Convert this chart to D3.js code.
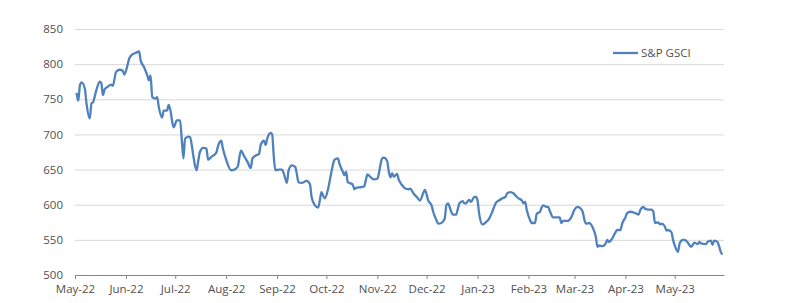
<!DOCTYPE html>
<html lang="en">
  <head>
    <meta charset="utf-8">
    <title>S&amp;P GSCI</title>
    <script src="https://d3js.org/d3.v7.min.js"></script>
    <style>
      body { margin: 0; background: #fff; }
      text { font-family: "Open Sans", sans-serif; font-size: 11.5px; fill: #505050; }
    </style>
  </head>
  <body>
    <script type="text/javascript">
      // S&P GSCI index level
      var dates = [
        "2022-05-02","2022-05-03","2022-05-04","2022-05-05","2022-05-07","2022-05-08","2022-05-10","2022-05-11",
        "2022-05-12","2022-05-14","2022-05-16","2022-05-17","2022-05-18","2022-05-19","2022-05-21","2022-05-23",
        "2022-05-24","2022-05-26","2022-05-28","2022-05-30","2022-05-31","2022-06-02","2022-06-03","2022-06-05",
        "2022-06-07","2022-06-09","2022-06-10","2022-06-12","2022-06-14","2022-06-15","2022-06-16","2022-06-17",
        "2022-06-19","2022-06-20","2022-06-21","2022-06-23","2022-06-24","2022-06-26","2022-06-27","2022-06-28",
        "2022-06-30","2022-07-02","2022-07-04","2022-07-05","2022-07-06","2022-07-07","2022-07-09","2022-07-10",
        "2022-07-12","2022-07-13","2022-07-14","2022-07-15","2022-07-16","2022-07-18","2022-07-20","2022-07-21",
        "2022-07-23","2022-07-26","2022-07-27","2022-07-29","2022-07-30","2022-08-01","2022-08-04","2022-08-06",
        "2022-08-08","2022-08-10","2022-08-12","2022-08-14","2022-08-16","2022-08-17","2022-08-19","2022-08-21",
        "2022-08-22","2022-08-24","2022-08-25","2022-08-26","2022-08-28","2022-08-29","2022-08-30","2022-08-31",
        "2022-09-02","2022-09-04","2022-09-05","2022-09-07","2022-09-08","2022-09-10","2022-09-12","2022-09-13",
        "2022-09-14","2022-09-16","2022-09-19","2022-09-21","2022-09-22","2022-09-24","2022-09-26","2022-09-27",
        "2022-09-28","2022-09-29","2022-09-30","2022-10-02","2022-10-04","2022-10-06","2022-10-08","2022-10-09",
        "2022-10-11","2022-10-12","2022-10-13","2022-10-14","2022-10-15","2022-10-17","2022-10-18","2022-10-19",
        "2022-10-22","2022-10-24","2022-10-25","2022-10-26","2022-10-28","2022-10-30","2022-11-01","2022-11-02",
        "2022-11-03","2022-11-04","2022-11-05","2022-11-07","2022-11-08","2022-11-09","2022-11-10","2022-11-11",
        "2022-11-13","2022-11-14","2022-11-16","2022-11-18","2022-11-20","2022-11-21","2022-11-23","2022-11-25",
        "2022-11-27","2022-11-29","2022-11-30","2022-12-02","2022-12-04","2022-12-05","2022-12-07","2022-12-08",
        "2022-12-10","2022-12-12","2022-12-13","2022-12-14","2022-12-16","2022-12-17","2022-12-19","2022-12-20",
        "2022-12-21","2022-12-23","2022-12-24","2022-12-25","2022-12-26","2022-12-27","2022-12-28","2022-12-30",
        "2022-12-31","2023-01-01","2023-01-02","2023-01-04","2023-01-06","2023-01-08","2023-01-10","2023-01-12",
        "2023-01-14","2023-01-16","2023-01-18","2023-01-19","2023-01-21","2023-01-23","2023-01-25","2023-01-26",
        "2023-01-28","2023-01-29","2023-01-30","2023-01-31","2023-02-02","2023-02-03","2023-02-05","2023-02-06",
        "2023-02-08","2023-02-09","2023-02-10","2023-02-12","2023-02-13","2023-02-14","2023-02-16","2023-02-18",
        "2023-02-20","2023-02-21","2023-02-22","2023-02-25","2023-02-27","2023-03-01","2023-03-03","2023-03-04",
        "2023-03-06","2023-03-07","2023-03-08","2023-03-10","2023-03-11","2023-03-12","2023-03-14","2023-03-15",
        "2023-03-16","2023-03-18","2023-03-20","2023-03-21","2023-03-22","2023-03-24","2023-03-26","2023-03-27",
        "2023-03-29","2023-03-30","2023-04-01","2023-04-02","2023-04-04","2023-04-07","2023-04-09","2023-04-10",
        "2023-04-12","2023-04-13","2023-04-15","2023-04-17","2023-04-18","2023-04-19","2023-04-21","2023-04-22",
        "2023-04-23","2023-04-25","2023-04-26","2023-04-27","2023-04-29","2023-04-30","2023-05-01","2023-05-03",
        "2023-05-04","2023-05-06","2023-05-07","2023-05-09","2023-05-11","2023-05-12","2023-05-13","2023-05-15",
        "2023-05-16","2023-05-17","2023-05-20","2023-05-21","2023-05-23","2023-05-24","2023-05-25","2023-05-27",
        "2023-05-28","2023-05-29","2023-05-30"
      ];
      var gsci = [
        759,748,770,774,765,744,723,744,
        746,763,775,773,756,764,768,771,
        769,789,792,791,785,799,808,814,
        816,818,805,796,784,777,784,753,
        751,753,739,724,734,734,742,735,
        710,720,720,692,666,694,697,696,
        670,656,649,662,675,681,680,664,
        668,674,683,691,680,664,649,650,
        654,677,669,661,652,666,670,672,
        685,691,685,694,702,700,668,649,
        650,650,645,631,649,656,654,644,
        632,631,634,629,611,599,596,606,
        618,613,609,622,646,664,666,658,
        647,642,647,632,631,629,622,624,
        625,626,635,643,639,636,637,645,
        658,666,667,662,647,639,645,640,
        644,636,628,623,622,623,616,611,
        606,617,621,606,599,590,578,573,
        574,580,599,602,590,586,586,594,
        602,605,602,602,605,607,604,611,
        611,606,587,572,575,580,590,602,
        606,609,611,616,618,616,611,609,
        606,602,604,592,578,574,574,587,
        590,596,599,597,597,591,582,582,
        582,574,577,577,582,593,597,596,
        590,579,573,574,572,568,554,540,
        542,541,545,550,547,552,561,564,
        564,573,582,588,590,588,586,592,
        597,594,593,593,590,574,575,572,
        573,569,563,564,561,550,542,533,
        545,550,550,546,540,543,546,544,
        547,545,544,547,549,543,549,547,
        541,533,529
      ];
      var yTicks = [500, 550, 600, 650, 700, 750, 800, 850];
      var monthTicks = [
        "2022-05-01","2022-06-01","2022-07-01","2022-08-01","2022-09-01","2022-10-01","2022-11-01",
        "2022-12-01","2023-01-01","2023-02-01","2023-03-01","2023-04-01","2023-05-01"
      ];
      var seriesName = "S&P GSCI";

      var w = 800;
      var h = 303;
      var plotLeft = 75, plotRight = 724, plotTop = 29, plotBottom = 275;

      var parse = d3.utcParse("%Y-%m-%d");
      var data = dates.map(function(d, i) { return {date: parse(d), value: gsci[i]}; });

      var xScale = d3.scaleUtc()
                     .domain([parse("2022-05-01"), parse("2023-05-31")])
                     .range([plotLeft, plotRight]);

      var yScale = d3.scaleLinear()
                     .domain([500, 850])
                     .range([plotBottom, plotTop]);

      var svg = d3.select("body")
                  .append("svg")
                  .attr("width", w)
                  .attr("height", h);

      // horizontal gridlines + y labels
      var yAxis = d3.axisLeft(yScale)
                    .tickValues(yTicks)
                    .tickSize(-(plotRight - plotLeft))
                    .tickPadding(12);

      svg.append("g")
         .attr("class", "y axis")
         .attr("transform", "translate(" + plotLeft + ",0)")
         .call(yAxis)
         .call(function(g) {
           g.select(".domain").remove();
           g.selectAll(".tick line").attr("stroke", "#d9d9d9");
           g.selectAll(".tick text").attr("fill", "#505050");
         });

      // date axis, ticks at month starts
      var xAxis = d3.axisBottom(xScale)
                    .tickValues(monthTicks.map(parse))
                    .tickFormat(d3.utcFormat("%b-%y"))
                    .tickSize(4)
                    .tickPadding(6)
                    .tickSizeOuter(0);

      svg.append("g")
         .attr("class", "x axis")
         .attr("transform", "translate(0," + plotBottom + ")")
         .call(xAxis)
         .call(function(g) {
           g.select(".domain").attr("stroke", "#868686");
           g.selectAll(".tick line").attr("stroke", "#868686");
           g.selectAll(".tick text").attr("fill", "#505050");
         });

      // the series
      var line = d3.line()
                   .x(function(d) { return xScale(d.date); })
                   .y(function(d) { return yScale(d.value); })
                   .curve(d3.curveMonotoneX);

      svg.append("path")
         .datum(data)
         .attr("fill", "none")
         .attr("stroke", "#4f81bd")
         .attr("stroke-width", 2.3)
         .attr("stroke-linejoin", "round")
         .attr("d", line);

      // legend
      var legend = svg.append("g")
                      .attr("transform", "translate(613,53)");
      legend.append("line")
            .attr("x1", 0).attr("x2", 25)
            .attr("stroke", "#4f81bd")
            .attr("stroke-width", 2.3);
      legend.append("text")
            .attr("x", 28)
            .attr("dy", "0.35em")
            .text(seriesName);
    </script>
  </body>
</html>
